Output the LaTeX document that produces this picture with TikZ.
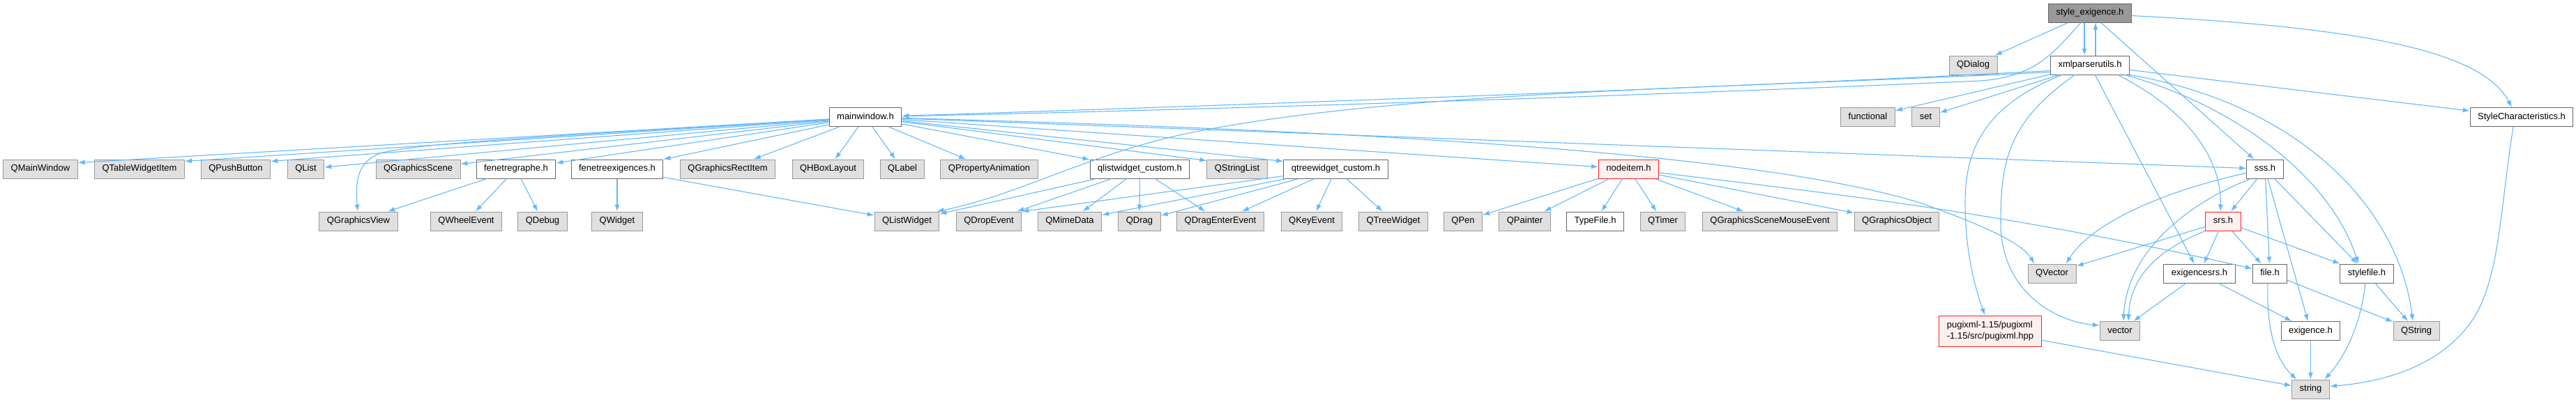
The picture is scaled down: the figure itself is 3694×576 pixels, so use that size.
\documentclass[tikz,border=0pt]{standalone}
\usepackage{fontspec}
\setmainfont{Liberation Sans}
\usetikzlibrary{arrows.meta}

\definecolor{edgeblue}{HTML}{63B8FF}
\definecolor{extfill}{HTML}{E0E0E0}
\definecolor{extline}{HTML}{999999}
\definecolor{docline}{HTML}{666666}
\definecolor{rootfill}{HTML}{999999}
\definecolor{truncfill}{HTML}{FFF0F0}
\definecolor{truncline}{HTML}{FF2020}

\begin{document}
\begin{tikzpicture}[x=1pt,y=-1pt,
    box/.style={draw,line width=1pt,minimum height=27pt,inner xsep=11pt,inner ysep=0pt,
      text height=9.5pt,text depth=3pt,font=\fontsize{13}{16}\selectfont},
    ext/.style={box,draw=extline,fill=extfill},
    doc/.style={box,draw=docline,fill=white},
    rootbox/.style={box,draw=docline,fill=rootfill},
    trunc/.style={box,draw=truncline,fill=truncfill},
    dep/.style={draw=edgeblue,line width=1.1pt,-{Latex[length=10pt,width=7pt]}}]
        \useasboundingbox (0,0) rectangle (3694,576);
        \node[rootbox] (root) at (2997,18.5) {style\_exigence.h};
        \foreach \n/\x/\y/\t in {xmlpu/2997/93.5/xmlparserutils.h, mainw/1241/168/mainwindow.h,
            stylechar/3616/168/StyleCharacteristics.h, fenetregraphe/740/242.5/fenetregraphe.h,
            fenetreexig/885/242.5/fenetreexigences.h, qlistcustom/1634.5/242.5/qlistwidget\_custom.h,
            qtreecustom/1915.5/242.5/qtreewidget\_custom.h, sss/3248/242.5/sss.h,
            typefile/2287.5/317.5/TypeFile.h, exigencesrs/3154/392.5/exigencesrs.h,
            fileh/3255/392.5/file.h, stylefile/3394/392.5/stylefile.h, exigence/3313.5/475/exigence.h}
        \node[doc] (\n) at (\x,\y) {\t};
        \foreach \n/\x/\y/\t in {qdialog/2829.5/93.5/QDialog, functional/2678.5/168/functional,
            stdset/2761.5/168/set, qmainwindow/58/242.5/QMainWindow,
            qtablewidgetitem/200/242.5/QTableWidgetItem, qpushbutton/338/242.5/QPushButton,
            qlist/438.5/242.5/QList, qgraphicsscene/599.5/242.5/QGraphicsScene,
            qgraphicsrectitem/1043.5/242.5/QGraphicsRectItem, qhboxlayout/1187.5/242.5/QHBoxLayout,
            qlabel/1294/242.5/QLabel, qpropanim/1418.5/242.5/QPropertyAnimation,
            qstringlist/1774/242.5/QStringList, qgraphicsview/514/317.5/QGraphicsView,
            qwheelevent/668.5/317.5/QWheelEvent, qdebug/778/317.5/QDebug, qwidget/885/317.5/QWidget,
            qlistwidget/1300.5/317.5/QListWidget, qdropevent/1418/317.5/QDropEvent,
            qmimedata/1534/317.5/QMimeData, qdrag/1634/317.5/QDrag,
            qdragenter/1750/317.5/QDragEnterEvent, qkeyevent/1881/317.5/QKeyEvent,
            qtreewidget/1998/317.5/QTreeWidget, qpen/2098/317.5/QPen, qpainter/2186.5/317.5/QPainter,
            qtimer/2384.5/317.5/QTimer, qgsmouse/2538/317.5/QGraphicsSceneMouseEvent,
            qgraphicsobject/2720/317.5/QGraphicsObject, qvector/2942.5/392.5/QVector,
            vector/3040/475/vector, qstring/3465/475/QString, string/3313.5/558.5/string}
        \node[ext] (\n) at (\x,\y) {\t};
        \node[trunc] (nodeitem) at (2335.5,242.5) {nodeitem.h};
        \node[trunc] (srs) at (3188,317.5) {srs.h};
        \node[draw=truncline,fill=truncfill,line width=1pt,minimum height=44pt,inner xsep=11pt,
            align=left,font=\fontsize{13}{16}\selectfont] (pugixml) at (2854,475)
            {pugixml-1.15/pugixml\\-1.15/src/pugixml.hpp};

        \foreach \a/\b in {root/qdialog, root/sss, xmlpu/functional, xmlpu/stdset, xmlpu/stylechar,
            xmlpu/exigencesrs, mainw/qlist, mainw/qgraphicsscene, mainw/fenetregraphe,
            mainw/fenetreexig, mainw/qgraphicsrectitem, mainw/qhboxlayout, mainw/qlabel,
            mainw/qpropanim, mainw/qlistcustom, mainw/nodeitem, mainw/sss,
            fenetregraphe/qgraphicsview, fenetregraphe/qwheelevent, fenetregraphe/qdebug,
            fenetreexig/qwidget, fenetreexig/qlistwidget, qlistcustom/qlistwidget,
            qlistcustom/qdropevent, qlistcustom/qmimedata, qlistcustom/qdrag, qlistcustom/qdragenter,
            qtreecustom/qmimedata, qtreecustom/qdrag, qtreecustom/qdragenter, qtreecustom/qkeyevent,
            qtreecustom/qtreewidget, nodeitem/qpen, nodeitem/qpainter, nodeitem/typefile,
            nodeitem/qtimer, nodeitem/qgsmouse, nodeitem/qgraphicsobject, sss/srs, sss/fileh,
            sss/exigence, sss/stylefile, srs/qvector, srs/exigencesrs, srs/fileh, srs/stylefile,
            exigencesrs/vector, exigencesrs/exigence, fileh/qstring, stylefile/qstring,
            exigence/string, pugixml/string}
        \draw[dep] (\a) -- (\b);
        \draw[dep] (mainw) -- ([yshift=-5pt]qmainwindow.north east);
        \draw[dep] (mainw) -- ([yshift=-3pt]qtablewidgetitem.north east);
        \draw[dep] (mainw) -- ([yshift=-3pt]qpushbutton.north east);
        \draw[dep] (mainw) -- ([yshift=-2pt]qstringlist.north west);
        \draw[dep] (mainw) -- ([yshift=-3pt]qtreecustom.north west);
        \draw[dep] (qtreecustom) -- (qdropevent.north east);
        \draw[dep] ([xshift=-8pt]root.south) -- ([xshift=-8pt]xmlpu.north);
        \draw[dep] ([xshift=8pt]xmlpu.north) -- ([xshift=8pt]root.south);
        \draw[dep] (root) .. controls (2945,75) and (2920,110) .. (2840,116)
            .. controls (2300,140) and (1700,158) .. (mainw);
        \draw[dep] ([yshift=-8pt]xmlpu.west) .. controls (2500,125) and (1800,150) .. (mainw);
        \draw[dep] ([yshift=-10pt]xmlpu.west) .. controls (2450,128) and (2000,130) .. (1700,192)
            .. controls (1560,222) and (1460,280) .. ([xshift=-4pt]qlistwidget.north east);
        \draw[dep] ([yshift=-4pt]root.east) .. controls (3400,40) and (3560,75)
            .. ([xshift=-14pt]stylechar.north);
        \draw[dep] (mainw) .. controls (800,195) and (600,205) .. (545,220)
            .. controls (515,232) and (509,255) .. (qgraphicsview);
        \draw[dep] (mainw) .. controls (1900,186) and (2500,215) .. (2750,290)
            .. controls (2850,325) and (2900,350) .. ([xshift=-25pt]qvector.north);
        \draw[dep] (nodeitem) .. controls (2600,275) and (2850,300) .. ([yshift=7pt]fileh.west);
        \draw[dep] (sss) .. controls (3100,275) and (3000,320) .. ([xshift=20pt]qvector.north);
        \draw[dep] ([xshift=-20pt]sss.south) .. controls (3140,290) and (3050,360)
            .. ([xshift=5pt]vector.north);
        \draw[dep] (srs.south west) .. controls (3090,360) and (3055,400) .. ([xshift=12pt]vector.north);
        \draw[dep] ([xshift=-40pt]xmlpu.south) .. controls (2850,150) and (2818,210) .. (2818,290)
            .. controls (2818,370) and (2835,420) .. (pugixml);
        \draw[dep] ([xshift=-22pt]xmlpu.south) .. controls (2880,175) and (2869,230) .. (2869,320)
            .. controls (2869,420) and (2950,462) .. ([yshift=8pt]vector.west);
        \draw[dep] ([xshift=40pt]xmlpu.south) .. controls (3140,160) and (3186,230)
            .. ([xshift=-4pt]srs.north);
        \draw[dep] ([xshift=50pt]xmlpu.south) .. controls (3200,150) and (3340,250)
            .. ([xshift=-12pt]stylefile.north);
        \draw[dep] (xmlpu.south east) .. controls (3300,150) and (3440,300)
            .. ([xshift=-5pt]qstring.north);
        \draw[dep] ([xshift=-12pt]stylechar.south) .. controls (3585,300) and (3585,400) .. (3545,460)
            .. controls (3500,525) and (3420,548) .. ([yshift=4pt]string.east);
        \draw[dep] ([xshift=-3pt]fileh.south) .. controls (3250,470) and (3262,515)
            .. ([xshift=-20pt]string.north);
        \draw[dep] ([xshift=-2pt]stylefile.south) .. controls (3385,470) and (3360,515)
            .. ([xshift=20pt]string.north);
    \end{tikzpicture}
\end{document}
